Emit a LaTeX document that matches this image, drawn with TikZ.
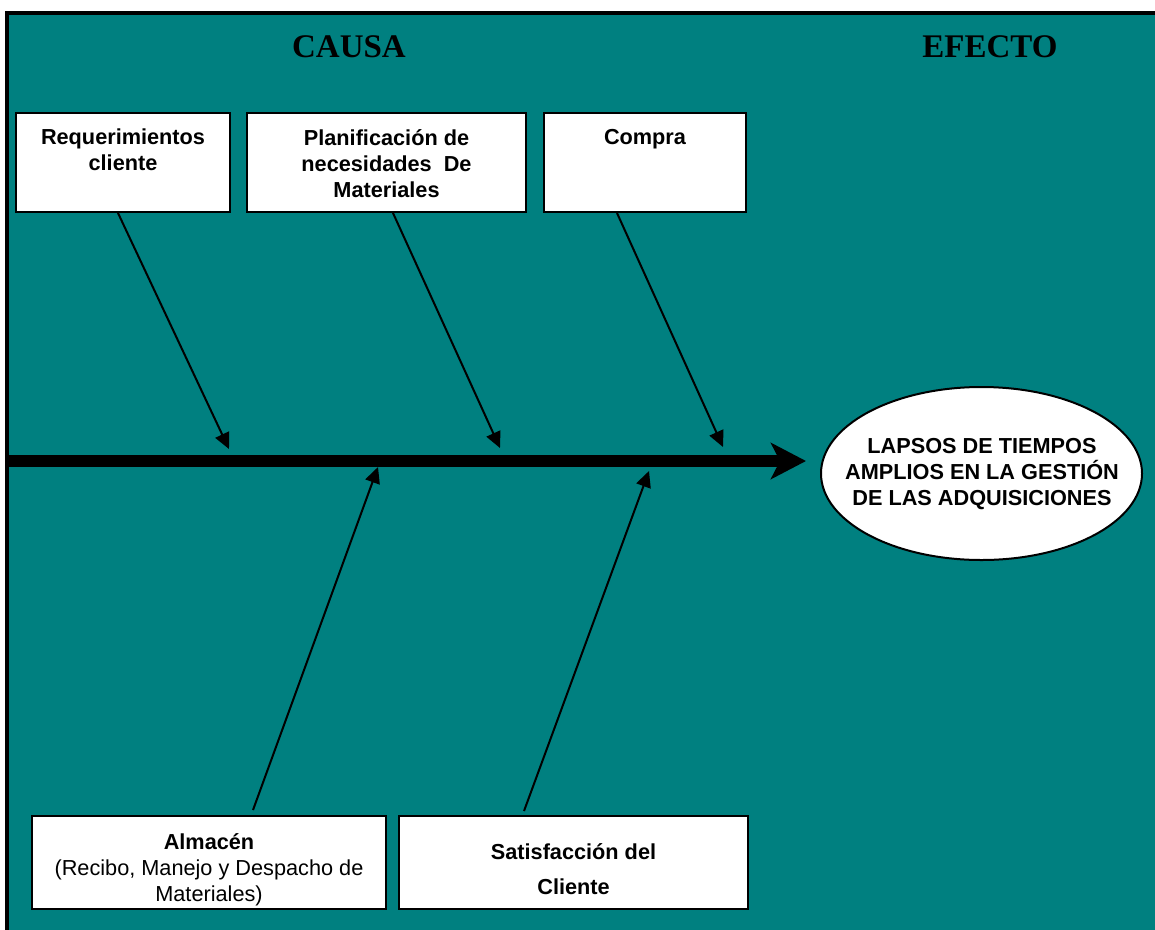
\documentclass[tikz,border=0pt]{standalone}
\usepackage{fontspec}
\setmainfont{Liberation Serif}
\newfontfamily\arial{Liberation Sans}
\usetikzlibrary{arrows.meta,shapes.geometric}
\definecolor{fishteal}{HTML}{008080}
\tikzset{
  causebox/.style={draw=black, line width=2pt, fill=white, inner sep=0pt},
  boxtext/.style={inner sep=0pt, align=center, font=\arial\fontsize{21.7}{26}\selectfont},
  title/.style={inner sep=0pt, font=\bfseries\fontsize{33}{36}\selectfont},
  bone/.style={line width=2pt, -{Triangle[length=16pt,width=15pt]}},
  spine/.style={line width=12pt, -{Stealth[length=35pt,width=36pt,inset=9pt]}},
}
\begin{document}
\begin{tikzpicture}[x=1pt,y=-1pt]
  \useasboundingbox (0,0) rectangle (1155,929);
  \fill[white] (0,0) rectangle (1155,929);
  \clip (0,0) rectangle (1155,929);

  % frame
  \draw[line width=4pt, fill=fishteal] (7,13) rectangle (1170,945);

  % headings
  \node[title] (causa) at (349,47) {CAUSA};
  \node[title] (efecto) at (990,47) {EFECTO};

  % cause boxes, upper row
  \node[causebox, minimum width=214pt, minimum height=99pt] (req) at (123,162.5) {};
  \node[causebox, minimum width=279pt, minimum height=99pt] (plan) at (386.5,162.5) {};
  \node[causebox, minimum width=202pt, minimum height=99pt] (compra) at (645,162.5) {};
  \node[boxtext, anchor=north] (reqT) at (123,129) {\bfseries Requerimientos\\\bfseries cliente};
  \node[boxtext, anchor=north] (planT) at (386.5,129) {\bfseries Planificación de\\\bfseries necesidades\ \ De\\\bfseries Materiales};
  \node[boxtext, anchor=north] (compraT) at (645,129) {\bfseries Compra};

  % cause boxes, lower row
  \node[causebox, minimum width=354pt, minimum height=93pt] (alm) at (209,862.5) {};
  \node[causebox, minimum width=349pt, minimum height=93pt] (sat) at (573.5,862.5) {};
  \begin{scope}
    \clip (alm.north west) rectangle (alm.south east);
    \node[boxtext, anchor=north] (almT) at (209,833) {\bfseries Almacén\\(Recibo, Manejo y Despacho de\\Materiales)};
  \end{scope}
  \node[boxtext, anchor=north] (satT) at (573.5,843) {\bfseries Satisfacción del\\[9pt]\bfseries Cliente};

  % effect
  \node[ellipse, draw=black, line width=2pt, fill=white, minimum width=321pt, minimum height=173pt, inner sep=0pt] (efe) at (981.5,473.5) {};
  \node[boxtext, font=\arial\bfseries\fontsize{21.7}{26}\selectfont] (efeT) at (982,474)
        {LAPSOS DE TIEMPOS\\AMPLIOS EN LA GESTIÓN\\DE LAS ADQUISICIONES};

  % spine
  \coordinate (tail) at (9,461);
  \draw[spine, shorten >=14pt] (tail) -- (efe.west |- tail);

  % bones
  \coordinate (h1) at (229,449);
  \coordinate (h2) at (500,448);
  \coordinate (h3) at (723,447);
  \coordinate (h4) at (378,467);
  \coordinate (h5) at (649,471);
  \draw[bone] ([xshift=-5pt]req.south) -- (h1);
  \draw[bone] ([xshift=6.5pt]plan.south) -- (h2);
  \draw[bone] ([xshift=-28pt]compra.south) -- (h3);
  \draw[bone] ([xshift=44pt,yshift=5pt]alm.north) -- (h4);
  \draw[bone] ([xshift=-49.5pt,yshift=4pt]sat.north) -- (h5);
\end{tikzpicture}
\end{document}
